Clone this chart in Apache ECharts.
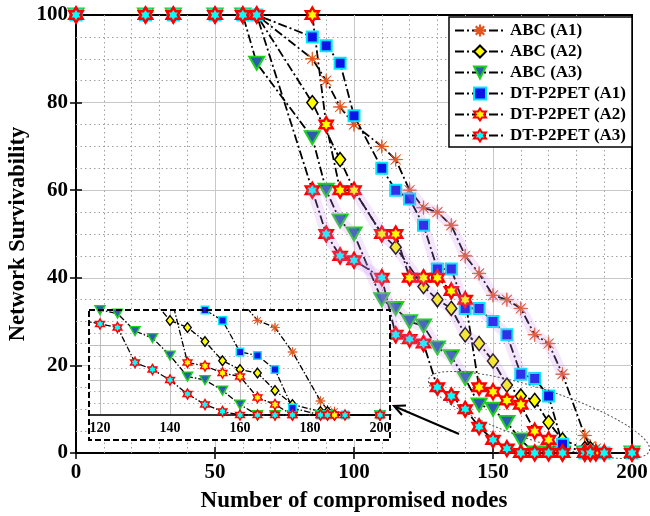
<!DOCTYPE html>
<html><head><meta charset="utf-8">
<script src="https://cdn.jsdelivr.net/npm/echarts@6/dist/echarts.min.js"></script>
<style>html,body{margin:0;padding:0;background:#fff}#c{width:650px;height:516px}</style>
</head><body><div id="c"></div>
<script>
// ---- data ----
const seriesNames = ['ABC (A1)','ABC (A2)','ABC (A3)','DT-P2PET (A1)','DT-P2PET (A2)','DT-P2PET (A3)'];

const abcA1X = [0,25,35,50,60,65,85,90,95,100,110,115,120,125,130,135,140,145,150,155,160,165,170,175,183,185,187,190,200];
const abcA1Y = [100,100,100,100,100,100,90,85,79,75,70,67,60,56,55,52,45,41,36,35,33,27,25,18,4,1.5,1,0,0];

const abcA2X = [0,25,35,50,60,65,85,95,100,110,115,125,130,135,140,145,150,155,160,165,170,175,183,185,187,200];
const abcA2Y = [100,100,100,100,100,100,80,67,60,50,47,38,35,33,27,25,21,15.5,13,12,7,3,1,1,0,0];

const abcA3X = [0,25,35,50,60,65,85,90,95,100,110,115,120,125,130,135,140,145,150,155,160,165,170,175,183,185,200];
const abcA3Y = [100,100,100,100,100,89,72,60,53,50,35,33,30,29,24,22,17,11,10,7,3,0,0,0,0,0,0];

const dtA1X = [0,25,35,50,60,65,85,90,95,100,110,115,120,125,130,135,140,145,150,155,160,165,170,175,183,185,190,200];
const dtA1Y = [100,100,100,100,100,100,95,93,89,77,65,60,58,52,42,42,33,33,30,27,18,17,13,2,0,0,0,0];

const dtA2X = [0,25,35,50,60,65,85,90,95,100,110,115,120,125,130,135,140,145,150,155,160,165,170,175,183,185,187,200];
const dtA2Y = [100,100,100,100,100,100,100,75,60,60,50,50,40,40,40,37,35,15,14,12,11,5,3,0,0,0,0,0];

const dtA3X = [0,25,35,50,60,65,85,90,95,100,110,115,120,125,130,135,140,145,150,155,160,165,170,175,183,185,190,200];
const dtA3Y = [100,100,100,100,100,100,60,50,45,44,40,27,26,25,15,13,10,6,3,1,0,0,0,0,0,0,0,0];

const xTitle = 'Number of compromised nodes';
const yTitle = 'Network Survivability';

// ---- build ----
const allX = [abcA1X, abcA2X, abcA3X, dtA1X, dtA2X, dtA3X];
const allY = [abcA1Y, abcA2Y, abcA3Y, dtA1Y, dtA2Y, dtA3Y];
const pairs = i => allX[i].map((x, k) => [x, allY[i][k]]);

const SYM_AST = 'path://M10,0 L1.663,0.689 L7.071,7.071 L0.689,1.663 L0,10 L-0.689,1.663 L-7.071,7.071 L-1.663,0.689 L-10,0 L-1.663,-0.689 L-7.071,-7.071 L-0.689,-1.663 L0,-10 L0.689,-1.663 L7.071,-7.071 L1.663,-0.689 Z';
const SYM_HEX = 'path://M0,-10 L2.887,-5 L8.66,-5 L5.774,0 L8.66,5 L2.887,5 L0,10 L-2.887,5 L-8.66,5 L-5.774,0 L-8.66,-5 L-2.887,-5 Z';
const SYM_TRI = 'path://M-10,-8.66 L10,-8.66 L0,8.66 Z';

const looks = [
  {symbol: SYM_AST, size: [14,14], item: {color:'#e0561e', borderColor:'#e0561e', borderWidth:0.8}},
  {symbol: 'diamond', size: [11,14], item: {color:'#ffff00', borderColor:'#000', borderWidth:1.5}},
  {symbol: SYM_TRI, size: [15,13], item: {color:'#2a5db0', borderColor:'#1ed01e', borderWidth:2}},
  {symbol: 'rect', size: [11,11], item: {color:'#0a14e6', borderColor:'#00e8ff', borderWidth:2}},
  {symbol: SYM_HEX, size: [13,15], item: {color:'#ffff00', borderColor:'#ff0000', borderWidth:2.4}},
  {symbol: SYM_HEX, size: [13,15], item: {color:'#00ffff', borderColor:'#ff0000', borderWidth:2.4}}
];
const halos = [[0,120,175],[1,100,155],[2,90,140],[3,115,165],[5,85,125]];

const FONT = "'Liberation Serif','DejaVu Serif',serif";
const dash = [9,3,2,3];

const series = [];
for (let i = 0; i < 6; i++) {
  series.push({
    name: seriesNames[i], type: 'line', xAxisIndex: 0, yAxisIndex: 0,
    data: pairs(i), symbol: looks[i].symbol, symbolSize: looks[i].size,
    itemStyle: looks[i].item,
    lineStyle: {color: '#000', width: 1.8, type: dash},
    clip: false, z: 2, animation: false
  });
}
halos.forEach(([i, a, b]) => {
  series.push({
    name: 'halo' + i, type: 'line', xAxisIndex: 0, yAxisIndex: 0,
    data: pairs(i).filter(p => p[0] >= a && p[0] <= b),
    symbol: 'none', silent: true, z: 3, animation: false,
    lineStyle: {color: 'rgba(200,140,245,0.22)', width: 11, cap: 'round', join: 'round'}
  });
});
for (let i = 0; i < 6; i++) {
  series.push({
    name: 'inset' + i, type: 'line', xAxisIndex: 2, yAxisIndex: 2,
    data: pairs(i), symbol: looks[i].symbol,
    symbolSize: looks[i].size.map(s => s * 0.68),
    itemStyle: Object.assign({}, looks[i].item, {borderWidth: Math.min(1.4, looks[i].item.borderWidth)}),
    lineStyle: {color: '#000', width: 1.3, type: [6,2,1.5,2]},
    clip: true, z: 12, silent: true, animation: false
  });
}

const tickLab = {fontFamily: FONT, fontWeight: 'bold', fontSize: 21, color: '#000'};
const majorSplit = {show: true, showMinLine: false, showMaxLine: false, lineStyle: {color: '#c8c8c8', width: 1}};
const minorSplit = {show: true, lineStyle: {color: '#a0a0a0', width: 1, type: [1.5,3]}};
const inTick = {show: true, inside: true, length: 6, lineStyle: {color: '#000', width: 1.5}};

const option = {
  animation: false,
  backgroundColor: '#fff',
  grid: [
    {left: 76, right: 18, top: 15, bottom: 63, show: true, borderColor: '#000', borderWidth: 2, backgroundColor: 'transparent', z: 0, outerBoundsMode: 'none', containLabel: false},
    {left: 89.5, top: 310, width: 301, height: 105, show: false, z: 10, outerBoundsMode: 'none', containLabel: false}
  ],
  xAxis: [
    {gridIndex: 0, type: 'value', min: 0, max: 200, interval: 50, position: 'bottom',
     axisLine: {show: false}, axisTick: inTick, axisLabel: Object.assign({margin: 9}, tickLab),
     splitLine: majorSplit, minorTick: {show: false, splitNumber: 5}, minorSplitLine: minorSplit,
     name: xTitle, nameLocation: 'middle', nameGap: 37,
     nameTextStyle: {fontFamily: FONT, fontWeight: 'bold', fontSize: 23, color: '#000'}},
    {gridIndex: 0, type: 'value', min: 0, max: 200, interval: 50, position: 'top',
     axisLine: {show: false}, axisTick: inTick, axisLabel: {show: false}, splitLine: {show: false}},
    {gridIndex: 1, type: 'value', min: 117, max: 203, position: 'bottom', z: 11,
     axisLine: {show: true, onZero: false, lineStyle: {color: '#333', width: 2}},
     axisTick: {show: false},
     axisLabel: {fontFamily: FONT, fontWeight: 'bold', fontSize: 14, color: '#000', margin: 6, showMinLabel: false, showMaxLabel: false},
     splitLine: {show: true, showMinLine: false, showMaxLine: false, lineStyle: {color: '#bdbdbd', width: 1}}}
  ],
  yAxis: [
    {gridIndex: 0, type: 'value', min: 0, max: 100, interval: 20, position: 'left',
     axisLine: {show: false}, axisTick: inTick, axisLabel: Object.assign({margin: 8}, tickLab),
     splitLine: majorSplit, minorTick: {show: false, splitNumber: 4}, minorSplitLine: minorSplit,
     name: yTitle, nameLocation: 'middle', nameGap: 46, nameRotate: 90, nameMoveOverlap: false,
     nameTextStyle: {fontFamily: FONT, fontWeight: 'bold', fontSize: 22.5, color: '#000'}},
    {gridIndex: 0, type: 'value', min: 0, max: 100, interval: 20, position: 'right',
     axisLine: {show: false}, axisTick: inTick, axisLabel: {show: false}, splitLine: {show: false}},
    {gridIndex: 1, type: 'value', min: 0, max: 30, interval: 10, position: 'left', z: 11,
     axisLine: {show: false}, axisTick: {show: false}, axisLabel: {show: false},
     splitLine: {show: true, showMinLine: false, showMaxLine: false, lineStyle: {color: '#bdbdbd', width: 1}},
     minorTick: {show: false, splitNumber: 3}, minorSplitLine: {show: true, lineStyle: {color: '#b0b0b0', width: 1, type: [1.5,3]}}}
  ],
  legend: {
    data: seriesNames, orient: 'vertical', right: 18, top: 17, z: 30,
    backgroundColor: '#fff', borderColor: '#000', borderWidth: 1.5,
    padding: [5, 6, 3, 5], itemWidth: 50, itemHeight: 15, itemGap: 4,
    textStyle: {fontFamily: FONT, fontWeight: 'bold', fontSize: 17, color: '#000', lineHeight: 17},
    selectedMode: false
  },
  graphic: [
    {type: 'rect', shape: {x: 89, y: 310, width: 301, height: 130}, style: {fill: '#fff'}, z: 9, silent: true},
    {type: 'rect', shape: {x: 89, y: 310, width: 301, height: 130}, style: {fill: 'none', stroke: '#000', lineWidth: 2, lineDash: [6, 3]}, z: 20, silent: true},
    {type: 'ellipse', x: 539, y: 415, rotation: -18 * Math.PI / 180, shape: {cx: 0, cy: 0, rx: 116, ry: 26},
     style: {fill: 'none', stroke: '#555', lineWidth: 1, lineDash: [2, 2]}, z: 25, silent: true},
    {type: 'polyline', shape: {points: [[459, 434], [396, 407]]}, style: {stroke: '#000', lineWidth: 2}, z: 25, silent: true},
    {type: 'polyline', shape: {points: [[402, 415], [394, 406], [406, 405.6]]}, style: {stroke: '#000', lineWidth: 2, fill: 'none'}, z: 25, silent: true}
  ],
  series: series
};
const chart = echarts.init(document.getElementById('c'), null, {renderer: 'canvas'});
chart.setOption(option);
</script>
</body></html>
